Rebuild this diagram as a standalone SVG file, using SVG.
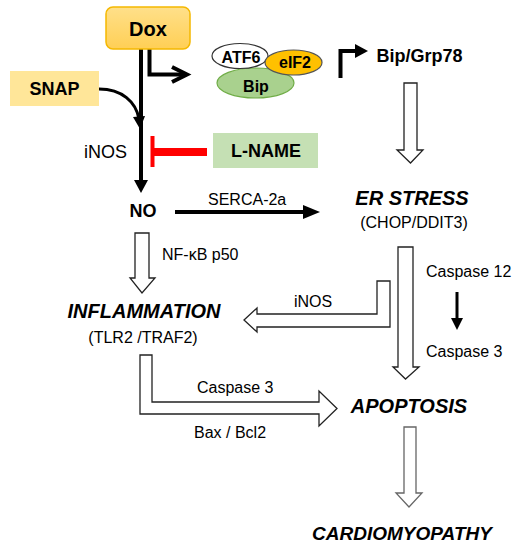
<svg xmlns="http://www.w3.org/2000/svg" width="518" height="550" viewBox="0 0 518 550">
<defs>
<linearGradient id="doxg" x1="0" y1="0" x2="0" y2="1"><stop offset="0" stop-color="#ffe08a"/><stop offset="1" stop-color="#ffcf55"/></linearGradient>
</defs>
<style>
text{font-family:"Liberation Sans",Arial,sans-serif;fill:#000}
.b{font-weight:bold}
.bi{font-weight:bold;font-style:italic;font-size:20px}
.r{font-size:16px}
.m{text-anchor:middle}
.hollow{fill:#fff;stroke:#222;stroke-width:1.3;stroke-linejoin:miter}
.thick{stroke:#000;stroke-width:4;fill:none}
</style>
<rect width="518" height="550" fill="#fff"/>
<g id="connectors">
<line class="thick" x1="141" y1="49" x2="141" y2="182"/>
<polygon points="134,180 141,193 148,180" fill="#000"/>
<polyline class="thick" points="149.5,49 149.5,74.5 186,74.5"/>
<polyline class="thick" points="172,67 187,74.5 172,82"/>
<path d="M99,89 C122,89 136,102 139,119" fill="none" stroke="#000" stroke-width="3"/>
<polygon points="133,117 140,129 145,116" fill="#000"/>
<line x1="152.5" y1="136" x2="152.5" y2="167" stroke="#ff0000" stroke-width="4"/>
<line x1="152" y1="152" x2="207" y2="152" stroke="#ff0000" stroke-width="8"/>
<polyline class="thick" points="340.5,78 340.5,51 357,51"/>
<polygon points="355,44 368,51 355,58" fill="#000"/>
<line class="thick" x1="175" y1="212" x2="305" y2="212"/>
<polygon points="303,205 320,212 303,219" fill="#000"/>
<line x1="457" y1="292" x2="457" y2="320" stroke="#000" stroke-width="3"/>
<polygon points="451,318 457,330 463,318" fill="#000"/>
<path class="hollow" d="M404,83 H417 V150 H423 L410.5,163 L397,150 H404 Z"/>
<path class="hollow" d="M135,233 H149 V278 H155 L142,293 L130,278 H135 Z"/>
<path class="hollow" d="M398,247 H413 V367 H419 L405.5,379 L393,367 H398 Z"/>
<path class="hollow" d="M404,427 H416 V493 H422 L409,507 L396,493 H404 Z" style="stroke:#666"/>
<path class="hollow" d="M377,281 H390 V327 H257 V332 L244,320 L257,308 V314 H377 Z"/>
<path class="hollow" d="M140,355 H152 V402 H319 V391 L337,408.5 L319,426 V414 H140 Z"/>
</g>
<g id="dox">
<rect x="106" y="7" width="84" height="42" rx="7" fill="url(#doxg)" stroke="#f5b800" stroke-width="1.5"/>
<text x="148" y="36" class="b m" font-size="20">Dox</text>
</g>
<g id="snap">
<rect x="10" y="71" width="89" height="35" fill="#ffe699"/>
<text x="54.5" y="95" class="b m" font-size="18">SNAP</text>
</g>
<g id="lname">
<rect x="213" y="133" width="105" height="35" fill="#c5e0b4"/>
<text x="266" y="157" class="b m" font-size="18">L-NAME</text>
</g>
<g id="complex">
<ellipse cx="255.5" cy="83" rx="38.5" ry="15" fill="#a9d18e" stroke="#70ad47" stroke-width="1.2"/>
<ellipse cx="240" cy="56" rx="28" ry="12.5" fill="#fff" stroke="#333" stroke-width="1.2"/>
<ellipse cx="293.5" cy="62.5" rx="28.5" ry="12.5" fill="#ffc000" stroke="#555" stroke-width="1.2"/>
<text x="241" y="63" class="b m" font-size="16">ATF6</text>
<text x="295" y="68" class="b m" font-size="16">eIF2</text>
<text x="256" y="92" class="b m" font-size="16">Bip</text>
</g>
<g id="bipgrp78"><text x="419.5" y="62" class="b m" font-size="18">Bip/Grp78</text></g>
<g id="inos-label"><text x="105.5" y="158" class="m" font-size="18">iNOS</text></g>
<g id="no"><text x="143" y="217" class="b m" font-size="18">NO</text></g>
<g id="serca"><text x="208" y="205" class="r">SERCA-2a</text></g>
<g id="erstress">
<text x="412" y="205" class="bi m">ER STRESS</text>
<text x="414" y="228" class="r m">(CHOP/DDIT3)</text>
</g>
<g id="nfkb"><text x="162" y="260" class="r">NF-κB p50</text></g>
<g id="inflammation">
<text x="144" y="318" class="bi m">INFLAMMATION</text>
<text x="143" y="343" class="r m">(TLR2 /TRAF2)</text>
</g>
<g id="inos2"><text x="313" y="307" class="r m">iNOS</text></g>
<g id="caspases">
<text x="426" y="277" class="r">Caspase 12</text>
<text x="426" y="357" class="r">Caspase 3</text>
</g>
<g id="casp3b"><text x="197" y="393" class="r">Caspase 3</text></g>
<g id="baxbcl2"><text x="194" y="438" class="r">Bax / Bcl2</text></g>
<g id="apoptosis"><text x="409" y="413" class="bi m">APOPTOSIS</text></g>
<g id="cardio"><text x="402" y="540" class="bi m" font-size="19" style="font-size:19px">CARDIOMYOPATHY</text></g>
</svg>
